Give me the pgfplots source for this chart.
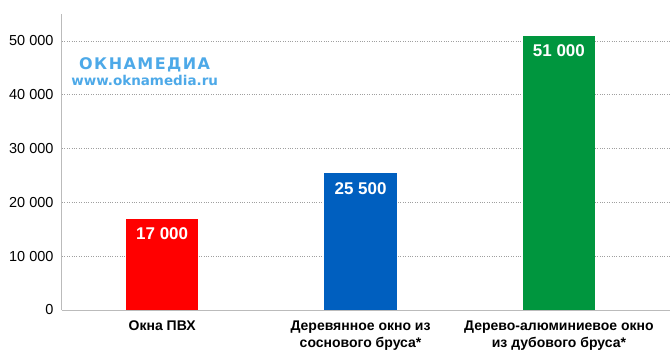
\documentclass[border=0pt]{standalone}
\usepackage{pgfplots}
\pgfplotsset{compat=1.18}
\usepackage{fontspec}
\setmainfont{Liberation Sans}
\newfontfamily\logofont[LetterSpace=9]{DejaVu Sans}
\newfontfamily\urlfont{DejaVu Sans}
\definecolor{cred}{HTML}{FF0000}
\definecolor{cblue}{HTML}{005FBF}
\definecolor{cgreen}{HTML}{00963E}
\definecolor{clogo}{HTML}{4DA9E8}
\definecolor{caxis}{HTML}{BBBBBB}
\begin{document}
\begin{tikzpicture}
\begin{axis}[
  scale only axis,
  width=608pt, height=296pt,
  xmin=-0.505, xmax=2.56,
  ymin=0, ymax=55000,
  axis x line*=bottom, axis y line*=left,
  axis line style={caxis, line width=1pt, -},
  xtick={0,1,2},
  xticklabels={Окна ПВХ, {Деревянное окно из\\соснового бруса*}, {Дерево-алюминиевое окно\\из дубового бруса*}},
  xticklabel style={align=center, font=\fontsize{14}{17}\selectfont\bfseries, yshift=-7pt},
  ytick={0,10000,20000,30000,40000,50000},
  yticklabel style={font=\fontsize{14.5}{16}\selectfont, xshift=-5pt},
  /pgf/number format/assume math mode=true,
  /pgf/number format/1000 sep={\ },
  scaled y ticks=false,
  major tick length=0pt,
  ymajorgrids,
  major grid style={dotted, gray!75, line width=0.7pt},
  ybar, bar width=0.364, bar shift=0pt,
  nodes near coords,
  every node near coord/.append style={anchor=north, yshift=-6pt, text=white, font=\fontsize{17}{19}\selectfont\bfseries},
  clip=false,
]
\addplot[fill=cred, draw=none] coordinates {(0,17000)};
\addplot[fill=cblue, draw=none] coordinates {(1,25500)};
\addplot[fill=cgreen, draw=none] coordinates {(2,51000)};
\node[anchor=west, inner sep=0pt, text=clogo, font=\fontsize{16}{18}\selectfont\bfseries\logofont] at (rel axis cs:0.028,0.827) {ОКНАМЕДИА};
\node[anchor=west, inner sep=0pt, text=clogo, font=\fontsize{13.5}{16}\selectfont\bfseries\urlfont] at (rel axis cs:0.015,0.775) {www.oknamedia.ru};
\end{axis}
\pgfresetboundingbox
\path[use as bounding box] (current axis.south west) ++(-62pt,-49pt) rectangle ([shift={(1pt,14pt)}]current axis.north east);
\end{tikzpicture}
\end{document}
